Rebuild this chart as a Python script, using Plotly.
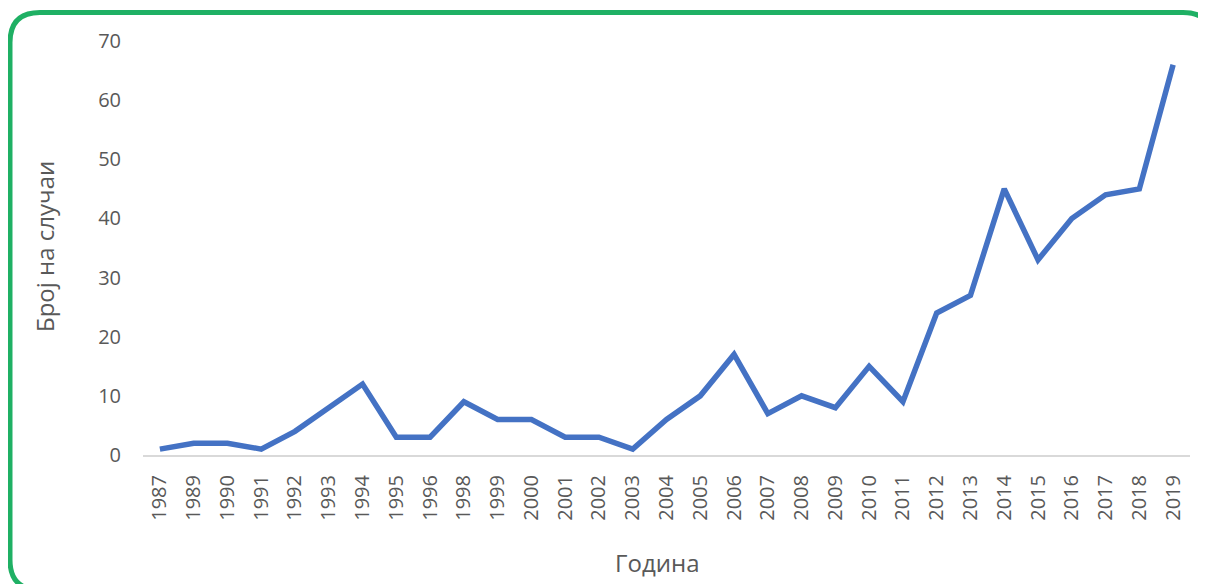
import plotly.graph_objects as go

years = ["1987", "1989", "1990", "1991", "1992", "1993", "1994", "1995", "1996", "1998",
         "1999", "2000", "2001", "2002", "2003", "2004", "2005", "2006", "2007", "2008",
         "2009", "2010", "2011", "2012", "2013", "2014", "2015", "2016", "2017", "2018", "2019"]
cases = [1, 2, 2, 1, 4, 8, 12, 3, 3, 9,
         6, 6, 3, 3, 1, 6, 10, 17, 7, 10,
         8, 15, 9, 24, 27, 45, 33, 40, 44, 45, 66]

# page body has an 8px margin, so figure pixel = screen pixel - 8
OFF = 8
W, H = 1198, 576
L, T = 143 - OFF, 41 - OFF
pw, ph = 1047, 414
R, B = W - L - pw, H - T - ph


def px(x, y):
    # screen pixel -> paper coords
    return (x - OFF - L) / pw, (H - B - (y - OFF)) / ph


def rounded_rect(x0, y0, x1, y1, r):
    def p(x, y):
        a, b = px(x, y)
        return f"{a:.5f},{b:.5f}"
    return " ".join([
        "M " + p(x0 + r, y0),
        "L " + p(x1 - r, y0),
        "Q " + p(x1, y0) + " " + p(x1, y0 + r),
        "L " + p(x1, y1 - r),
        "Q " + p(x1, y1) + " " + p(x1 - r, y1),
        "L " + p(x0 + r, y1),
        "Q " + p(x0, y1) + " " + p(x0, y1 - r),
        "L " + p(x0, y0 + r),
        "Q " + p(x0, y0) + " " + p(x0 + r, y0),
        "Z",
    ])


grey = "#595959"
fam = "Open Sans, sans-serif"

fig = go.Figure()
fig.add_trace(go.Scatter(
    x=years, y=cases,
    mode="lines",
    line=dict(width=5.5, color="#4472c4"),
    hovertemplate="%{x}: %{y}<extra></extra>",
))

fig.add_shape(
    type="path", xref="paper", yref="paper",
    path=rounded_rect(10, 12.5, 1213, 590, 30),
    line=dict(color="#1fb064", width=5),
    layer="above",
)

ytx, yty = px(44, 247)
xtx, xty = px(657, 562)
fig.add_annotation(text="Број на случаи", xref="paper", yref="paper", x=ytx, y=yty,
                   textangle=-90, showarrow=False, xanchor="center", yanchor="middle",
                   font=dict(family=fam, size=24, color=grey))
fig.add_annotation(text="Година", xref="paper", yref="paper", x=xtx, y=xty,
                   showarrow=False, xanchor="center", yanchor="middle",
                   font=dict(family=fam, size=24, color=grey))

fig.update_layout(
    width=W, height=H,
    margin=dict(l=L, r=R, t=T, b=B, autoexpand=False),
    plot_bgcolor="white", paper_bgcolor="white",
    showlegend=False,
    font=dict(family=fam, size=20, color=grey),
    xaxis=dict(
        type="category", range=[-0.5, len(years) - 0.5],
        showgrid=False, showline=True, linecolor="#d9d9d9", linewidth=2,
        tickangle=-90, ticks="outside", ticklen=10, tickcolor="rgba(0,0,0,0)",
        tickfont=dict(size=20, color=grey),
        zeroline=False,
    ),
    yaxis=dict(
        range=[0, 70], dtick=10, showgrid=False, zeroline=False, showline=False,
        ticks="outside", ticklen=17, tickcolor="rgba(0,0,0,0)",
        tickfont=dict(size=20, color=grey),
    ),
)

fig.write_html("out.html")
